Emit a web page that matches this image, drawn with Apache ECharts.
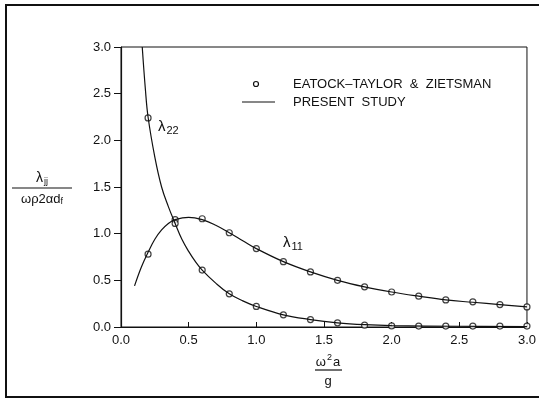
<!DOCTYPE html>
<html>
<head>
    <meta charset="utf-8">
    <title>Added mass coefficients</title>
    <script src="https://cdn.jsdelivr.net/npm/echarts@6/dist/echarts.min.js"></script>
</head>
<body style="margin:0">
    <div id="main" style="width: 539px;height:405px;"></div>
    <script type="text/javascript">
    var myChart = echarts.init(document.getElementById('main'));

// Eatock-Taylor & Zietsman points (circles)
var refX = [0.2, 0.4, 0.6, 0.8, 1.0, 1.2, 1.4, 1.6, 1.8, 2.0, 2.2, 2.4, 2.6, 2.8, 3.0];
var refL11 = [0.78, 1.15, 1.16, 1.01, 0.84, 0.70, 0.59, 0.50, 0.43, 0.375, 0.33, 0.29, 0.27, 0.24, 0.215];
var refL22 = [2.24, 1.11, 0.61, 0.355, 0.22, 0.13, 0.08, 0.045, 0.02, 0.012, 0.01, 0.01, 0.01, 0.01, 0.01];

// present study curves
var l11X = [0.1, 0.15, 0.2, 0.25, 0.3, 0.35, 0.4, 0.5, 0.6, 0.7, 0.8, 0.9, 1.0, 1.2, 1.4, 1.6, 1.8, 2.0, 2.2, 2.4, 2.6, 2.8, 3.0];
var l11Y = [0.44, 0.64, 0.80, 0.94, 1.04, 1.11, 1.15, 1.175, 1.15, 1.09, 1.01, 0.925, 0.84, 0.70, 0.59, 0.50, 0.43, 0.375, 0.33, 0.29, 0.265, 0.24, 0.215];
var l22X = [0.157, 0.18, 0.2, 0.25, 0.3, 0.35, 0.4, 0.45, 0.5, 0.55, 0.6, 0.7, 0.8, 0.9, 1.0, 1.2, 1.4, 1.6, 1.8, 2.0, 2.5, 3.0];
var l22Y = [3.0, 2.55, 2.25, 1.82, 1.50, 1.29, 1.11, 0.94, 0.81, 0.70, 0.61, 0.47, 0.355, 0.28, 0.22, 0.13, 0.08, 0.045, 0.025, 0.015, 0.008, 0.005];

function pairs(xs, ys) {
    return xs.map(function (x, i) { return [x, ys[i]]; });
}

var font = 'Liberation Sans';

option = {
    animation: false,
    backgroundColor: '#fff',
    grid: {
        left: 121, top: 47, right: 10, bottom: 78,
        show: true, borderColor: '#111', borderWidth: 1
    },
    xAxis: {
        type: 'value', min: 0, max: 3, interval: 0.5,
        axisLine: { lineStyle: { color: '#111', width: 1.2 } },
        axisTick: { inside: true, length: 5, lineStyle: { color: '#111' } },
        splitLine: { show: false },
        axisLabel: { color: '#111', fontFamily: font, fontSize: 13, margin: 7,
            formatter: function (v) { return v.toFixed(1); } }
    },
    yAxis: {
        type: 'value', min: 0, max: 3, interval: 0.5,
        axisLine: { lineStyle: { color: '#111', width: 1.2 } },
        axisTick: { inside: false, length: 7, lineStyle: { color: '#111' } },
        splitLine: { show: false },
        axisLabel: { color: '#111', fontFamily: font, fontSize: 13, margin: 10,
            formatter: function (v) { return v.toFixed(1); } }
    },
    series: [
        { type: 'line', data: pairs(l11X, l11Y), smooth: 0.4, showSymbol: false,
          lineStyle: { color: '#111', width: 1.2 } },
        { type: 'line', data: pairs(l22X, l22Y), smooth: 0.4, showSymbol: false,
          lineStyle: { color: '#111', width: 1.2 } },
        { type: 'scatter', data: pairs(refX, refL11), symbol: 'circle', symbolSize: 6,
          itemStyle: { color: '#fff', borderColor: '#111', borderWidth: 1.2 } },
        { type: 'scatter', data: pairs(refX, refL22), symbol: 'circle', symbolSize: 6,
          itemStyle: { color: '#fff', borderColor: '#111', borderWidth: 1.2 } }
    ],
    graphic: [
        // outer frame
        { type: 'rect', shape: { x: 6, y: 5, width: 560, height: 392 },
          style: { fill: null, stroke: '#111', lineWidth: 2 } },
        // legend
        { type: 'circle', shape: { cx: 256, cy: 84, r: 2.5 },
          style: { fill: '#fff', stroke: '#111', lineWidth: 1.2 } },
        { type: 'line', shape: { x1: 242, y1: 102, x2: 275, y2: 102 },
          style: { stroke: '#111', lineWidth: 1.2 } },
        { type: 'text', x: 293, y: 84, style: { text: 'EATOCK\u2013TAYLOR  &  ZIETSMAN', fill: '#111',
          font: '13px ' + font, verticalAlign: 'middle' } },
        { type: 'text', x: 293, y: 102, style: { text: 'PRESENT  STUDY', fill: '#111',
          font: '13px ' + font, verticalAlign: 'middle' } },
        // curve labels
        { type: 'text', x: 158, y: 127, style: { text: '{l|\u03bb}{s|22}', verticalAlign: 'middle',
          rich: { l: { fontSize: 15, fontFamily: font, fill: '#111' },
                  s: { fontSize: 11, fontFamily: font, fill: '#111', padding: [8, 0, 0, 1] } } } },
        { type: 'text', x: 283, y: 243, style: { text: '{l|\u03bb}{s|11}', verticalAlign: 'middle',
          rich: { l: { fontSize: 15, fontFamily: font, fill: '#111' },
                  s: { fontSize: 11, fontFamily: font, fill: '#111', padding: [8, 0, 0, 1] } } } },
        // y axis name: lambda_jj / (omega rho 2 a d_f)
        { type: 'text', x: 42, y: 178, style: { text: '{l|\u03bb}{s|jj}', align: 'center', verticalAlign: 'middle',
          rich: { l: { fontSize: 14, fontFamily: font, fill: '#111' },
                  s: { fontSize: 9, fontFamily: font, fill: '#111', padding: [7, 0, 0, 1] } } } },
        { type: 'line', shape: { x1: 12, y1: 188, x2: 72, y2: 188 },
          style: { stroke: '#111', lineWidth: 1.2 } },
        { type: 'text', x: 42, y: 199, style: { text: '{t|\u03c9\u03c12\u03b1d}{s|f}', align: 'center', verticalAlign: 'middle',
          rich: { t: { fontSize: 13, fontFamily: font, fill: '#111' },
                  s: { fontSize: 9, fontFamily: font, fill: '#111', padding: [6, 0, 0, 0] } } } },
        // x axis name: omega^2 a / g
        { type: 'text', x: 328, y: 362, style: { text: '{t|\u03c9}{s|2}{t|a}', align: 'center', verticalAlign: 'middle',
          rich: { t: { fontSize: 13, fontFamily: font, fill: '#111' },
                  s: { fontSize: 9, fontFamily: font, fill: '#111', padding: [0, 1, 8, 1] } } } },
        { type: 'line', shape: { x1: 315, y1: 370, x2: 342, y2: 370 },
          style: { stroke: '#111', lineWidth: 1.2 } },
        { type: 'text', x: 328, y: 381, style: { text: 'g', align: 'center', verticalAlign: 'middle',
          font: '13px ' + font, fill: '#111' } }
    ]
};

        myChart.setOption(option);
    </script>
</body>
</html>
